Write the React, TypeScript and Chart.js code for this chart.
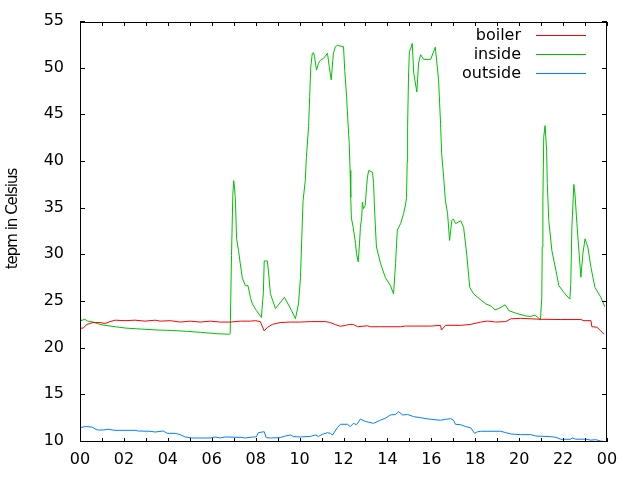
import React, { useEffect, useRef } from "react";
import { Chart, registerables } from "chart.js";

Chart.register(...registerables);

const xTickLabels = ["00", "02", "04", "06", "08", "10", "12", "14", "16", "18", "20", "22", "00"];
const yTickValues = [10, 15, 20, 25, 30, 35, 40, 45, 50, 55];
const yAxisTitle = "tepm in Celsius";
const seriesNames = ["boiler", "inside", "outside"];
const seriesColors = ["#ff0000", "#00c000", "#0080ff"];

const boilerHours = [0, 0.14, 0.32, 0.59, 0.91, 1.14, 1.37, 1.6, 2.05, 2.51, 2.96, 3.42, 3.65, 4.11, 4.56, 5.02, 5.47, 5.93, 6.39, 6.84, 7.3, 7.76, 7.98, 8.21, 8.39, 8.53, 8.76, 9.12, 9.58, 10.04, 10.49, 11.18, 11.4, 11.63, 11.86, 12.09, 12.27, 12.45, 12.64, 13.09, 13.23, 13.69, 14.6, 14.83, 15.97, 16.42, 16.46, 16.65, 17.34, 17.79, 18.25, 18.57, 18.93, 19.39, 19.62, 20.07, 20.53, 20.99, 21.9, 22.81, 22.95, 23.27, 23.31, 23.54, 23.72, 23.86];
const boilerTemps = [22.2, 22.2, 22.6, 22.8, 22.8, 22.7, 22.9, 23.05, 23.0, 23.05, 22.95, 23.05, 22.95, 23.0, 22.85, 22.95, 22.85, 22.95, 22.85, 22.85, 22.95, 22.95, 23.0, 22.9, 21.9, 22.27, 22.6, 22.8, 22.85, 22.85, 22.9, 22.9, 22.8, 22.57, 22.4, 22.5, 22.6, 22.6, 22.35, 22.45, 22.35, 22.35, 22.35, 22.42, 22.42, 22.5, 22.0, 22.5, 22.5, 22.6, 22.85, 22.96, 22.85, 22.9, 23.2, 23.25, 23.2, 23.15, 23.12, 23.12, 23.0, 23.0, 22.35, 22.3, 21.9, 21.55];

const insideHours = [0.0, 0.05, 0.22, 0.35, 0.6, 0.9, 1.14, 1.6, 2.1, 2.8, 3.5, 4.2, 4.9, 5.5, 6.25, 6.8, 6.84, 6.9, 6.96, 7.0, 7.04, 7.08, 7.13, 7.22, 7.3, 7.39, 7.53, 7.65, 7.76, 7.85, 8.03, 8.26, 8.35, 8.39, 8.53, 8.58, 8.67, 8.9, 9.31, 9.63, 9.81, 9.95, 10.04, 10.13, 10.16, 10.26, 10.31, 10.41, 10.46, 10.51, 10.58, 10.64, 10.68, 10.77, 10.86, 10.95, 11.09, 11.27, 11.35, 11.44, 11.54, 11.63, 11.72, 12.0, 12.06, 12.14, 12.19, 12.26, 12.3, 12.33, 12.36, 12.44, 12.55, 12.59, 12.67, 12.73, 12.77, 12.83, 12.86, 12.91, 12.99, 13.05, 13.09, 13.15, 13.32, 13.37, 13.41, 13.46, 13.5, 13.69, 13.91, 14.14, 14.28, 14.37, 14.45, 14.6, 14.74, 14.83, 14.87, 14.9, 14.92, 14.96, 15.0, 15.07, 15.13, 15.2, 15.34, 15.42, 15.51, 15.65, 15.97, 16.18, 16.24, 16.33, 16.42, 16.47, 16.56, 16.64, 16.74, 16.83, 16.93, 17.0, 17.11, 17.34, 17.47, 17.61, 17.75, 17.93, 18.11, 18.48, 18.7, 18.89, 19.07, 19.36, 19.53, 19.85, 20.3, 20.53, 20.71, 20.85, 20.97, 21.03, 21.05, 21.08, 21.12, 21.18, 21.25, 21.28, 21.35, 21.49, 21.67, 21.81, 22.04, 22.31, 22.35, 22.4, 22.49, 22.54, 22.63, 22.72, 22.81, 22.9, 23.0, 23.13, 23.27, 23.45, 23.72, 23.9];
const insideTemps = [23.5, 23.0, 23.15, 22.95, 22.85, 22.6, 22.5, 22.35, 22.2, 22.1, 22.0, 21.95, 21.85, 21.75, 21.6, 21.55, 21.6, 30.0, 36.5, 38.0, 37.2, 35.8, 31.8, 30.5, 29.1, 27.6, 26.75, 26.75, 25.5, 24.8, 24.1, 23.35, 26.0, 29.4, 29.4, 28.4, 25.9, 24.3, 25.5, 24.1, 23.2, 24.8, 27.6, 34.0, 35.9, 38.0, 40.5, 43.8, 47.0, 50.2, 51.65, 51.7, 51.3, 49.85, 50.56, 50.9, 51.1, 51.65, 50.2, 48.8, 51.65, 52.35, 52.5, 52.35, 49.7, 47.0, 44.8, 42.0, 39.1, 36.2, 34.0, 33.0, 31.25, 30.2, 29.3, 31.3, 33.0, 34.1, 35.7, 35.0, 35.35, 37.3, 38.4, 39.1, 38.9, 37.7, 35.2, 32.7, 30.9, 29.1, 27.6, 26.75, 25.86, 29.1, 32.7, 33.4, 34.5, 35.5, 36.2, 40.0, 43.8, 49.1, 51.8, 52.2, 52.7, 49.5, 47.5, 50.6, 51.5, 51.0, 51.0, 52.3, 50.9, 48.8, 44.1, 40.9, 38.4, 35.9, 34.46, 31.6, 33.7, 33.9, 33.4, 33.7, 33.0, 30.15, 26.57, 25.86, 25.5, 24.8, 24.6, 24.15, 24.3, 24.7, 24.07, 23.8, 23.5, 23.45, 23.6, 23.35, 23.07, 25.5, 30.9, 35.9, 42.7, 43.9, 41.25, 37.7, 33.7, 30.5, 28.4, 26.75, 26.0, 25.3, 26.9, 33.0, 37.6, 36.6, 33.4, 30.5, 27.65, 30.15, 31.77, 30.87, 28.7, 26.57, 25.5, 24.5];

const outsideHours = [0, 0.23, 0.55, 0.78, 1.09, 1.28, 1.6, 2.51, 2.65, 3.19, 3.42, 3.79, 3.97, 4.33, 4.56, 4.79, 5.11, 5.93, 6.16, 6.39, 6.62, 7.3, 7.53, 7.89, 8.03, 8.12, 8.39, 8.48, 8.67, 9.12, 9.35, 9.58, 9.72, 10.04, 10.49, 10.72, 10.86, 11.04, 11.27, 11.4, 11.5, 11.72, 11.86, 12.18, 12.31, 12.45, 12.59, 12.77, 13.0, 13.37, 13.69, 13.91, 14.14, 14.37, 14.51, 14.69, 14.92, 15.19, 15.51, 15.97, 16.42, 16.65, 16.88, 17.01, 17.1, 17.34, 17.56, 17.79, 17.97, 18.11, 18.25, 19.16, 19.39, 19.62, 20.07, 20.53, 20.76, 21.44, 21.67, 21.9, 22.35, 22.4, 22.58, 22.81, 23.04, 23.27, 23.49, 23.72, 23.95];
const outsideTemps = [11.53, 11.65, 11.6, 11.29, 11.29, 11.36, 11.25, 11.25, 11.18, 11.15, 11.07, 11.18, 10.93, 10.93, 10.79, 10.54, 10.43, 10.43, 10.54, 10.43, 10.54, 10.5, 10.43, 10.54, 10.54, 11.0, 11.1, 10.47, 10.43, 10.47, 10.64, 10.75, 10.58, 10.54, 10.6, 10.75, 10.6, 10.82, 11.0, 10.93, 10.75, 11.53, 11.9, 11.9, 11.65, 12.0, 11.85, 12.45, 12.2, 12.0, 12.35, 12.55, 12.9, 12.95, 13.25, 12.9, 12.95, 12.72, 12.6, 12.43, 12.33, 12.43, 12.5, 12.33, 11.9, 11.85, 11.65, 11.53, 10.93, 11.1, 11.15, 11.15, 11.0, 10.86, 10.79, 10.79, 10.64, 10.57, 10.5, 10.29, 10.29, 10.45, 10.3, 10.3, 10.3, 10.2, 10.25, 10.1, 10.03];

const FONT = "DejaVu Sans";

function pts(hours: number[], temps: number[]) {
  return hours.map((h, i) => ({ x: h, y: temps[i] }));
}

export default function App() {
  const ref = useRef<HTMLCanvasElement>(null);

  useEffect(() => {
    const canvas = ref.current;
    if (!canvas) return;

    const framePlugin = {
      id: "gnuFrame",
      afterDatasetsDraw(chart: any) {
        const { ctx, chartArea: a, scales } = chart;
        ctx.save();
        ctx.strokeStyle = "#000";
        ctx.lineWidth = 1;
        ctx.beginPath();
        for (let h = 0; h <= 24; h++) {
          const px = Math.round(scales.x.getPixelForValue(h)) + 0.5;
          const len = 4;
          ctx.moveTo(px, a.bottom);
          ctx.lineTo(px, a.bottom - len);
          ctx.moveTo(px, a.top);
          ctx.lineTo(px, a.top + len);
        }
        for (const v of yTickValues) {
          const py = Math.round(scales.y.getPixelForValue(v)) - 0.5;
          const len = 5;
          ctx.moveTo(a.left, py);
          ctx.lineTo(a.left + len, py);
          ctx.moveTo(a.right, py);
          ctx.lineTo(a.right - len, py);
        }
        ctx.stroke();
        ctx.strokeRect(a.left + 0.5, a.top + 0.5, a.right - a.left - 1, a.bottom - a.top - 1);

        // y tick labels
        ctx.font = `16px "${FONT}"`;
        ctx.fillStyle = "#000";
        ctx.textAlign = "right";
        ctx.textBaseline = "middle";
        for (const v of yTickValues) {
          const py = scales.y.getPixelForValue(v);
          ctx.fillText(String(v), 64, py - 1);
        }

        // key
        seriesNames.forEach((name, i) => {
          const y = 35 + i * 19;
          ctx.fillStyle = "#000";
          ctx.fillText(name, 521, y + 1);
          ctx.fillStyle = seriesColors[i];
          ctx.fillRect(536, y, 50, 1);
        });

        // y axis title
        ctx.save();
        ctx.translate(13, 219);
        ctx.rotate(-Math.PI / 2);
        ctx.font = `15px "${FONT}"`;
        (ctx as any).letterSpacing = "-1px";
        ctx.textAlign = "center";
        ctx.textBaseline = "middle";
        ctx.fillStyle = "#000";
        ctx.fillText(yAxisTitle, 0, 0);
        ctx.restore();

        ctx.restore();
      },
    };

    const mk = (i: number, hours: number[], temps: number[]) => ({
      label: seriesNames[i],
      data: pts(hours, temps),
      borderColor: seriesColors[i],
      backgroundColor: seriesColors[i],
      borderWidth: 1,
      pointRadius: 0,
      tension: 0,
      fill: false,
    });

    const chart = new Chart(canvas, {
      type: "line",
      data: {
        datasets: [
          mk(0, boilerHours, boilerTemps),
          mk(1, insideHours, insideTemps),
          mk(2, outsideHours, outsideTemps),
        ],
      },
      options: {
        responsive: false,
        animation: false,
        devicePixelRatio: 1,
        layout: { padding: { top: 22, right: 33, left: 0, bottom: 0 } },
        plugins: { legend: { display: false }, tooltip: { enabled: false } },
        scales: {
          x: {
            type: "linear",
            min: 0,
            max: 24,
            afterFit: (s: any) => {
              s.height = 38;
            },
            grid: { display: false, drawTicks: false },
            border: { display: false },
            ticks: {
              stepSize: 2,
              autoSkip: false,
              maxRotation: 0,
              padding: 8,
              color: "#000",
              font: { family: FONT, size: 16 },
              callback: (v: any) => xTickLabels[Math.round(Number(v) / 2)],
            },
          },
          y: {
            type: "linear",
            min: 10,
            max: 55,
            afterFit: (s: any) => {
              s.width = 80;
            },
            grid: { display: false, drawTicks: false },
            border: { display: false },
            ticks: { display: false, stepSize: 5 },
          },
        },
      },
      plugins: [framePlugin],
    } as any);

    return () => chart.destroy();
  }, []);

  return (
    <div style={{ position: "fixed", left: 0, top: 0, width: 640, height: 480, background: "#fff" }}>
      <canvas ref={ref} width={640} height={480} />
    </div>
  );
}
